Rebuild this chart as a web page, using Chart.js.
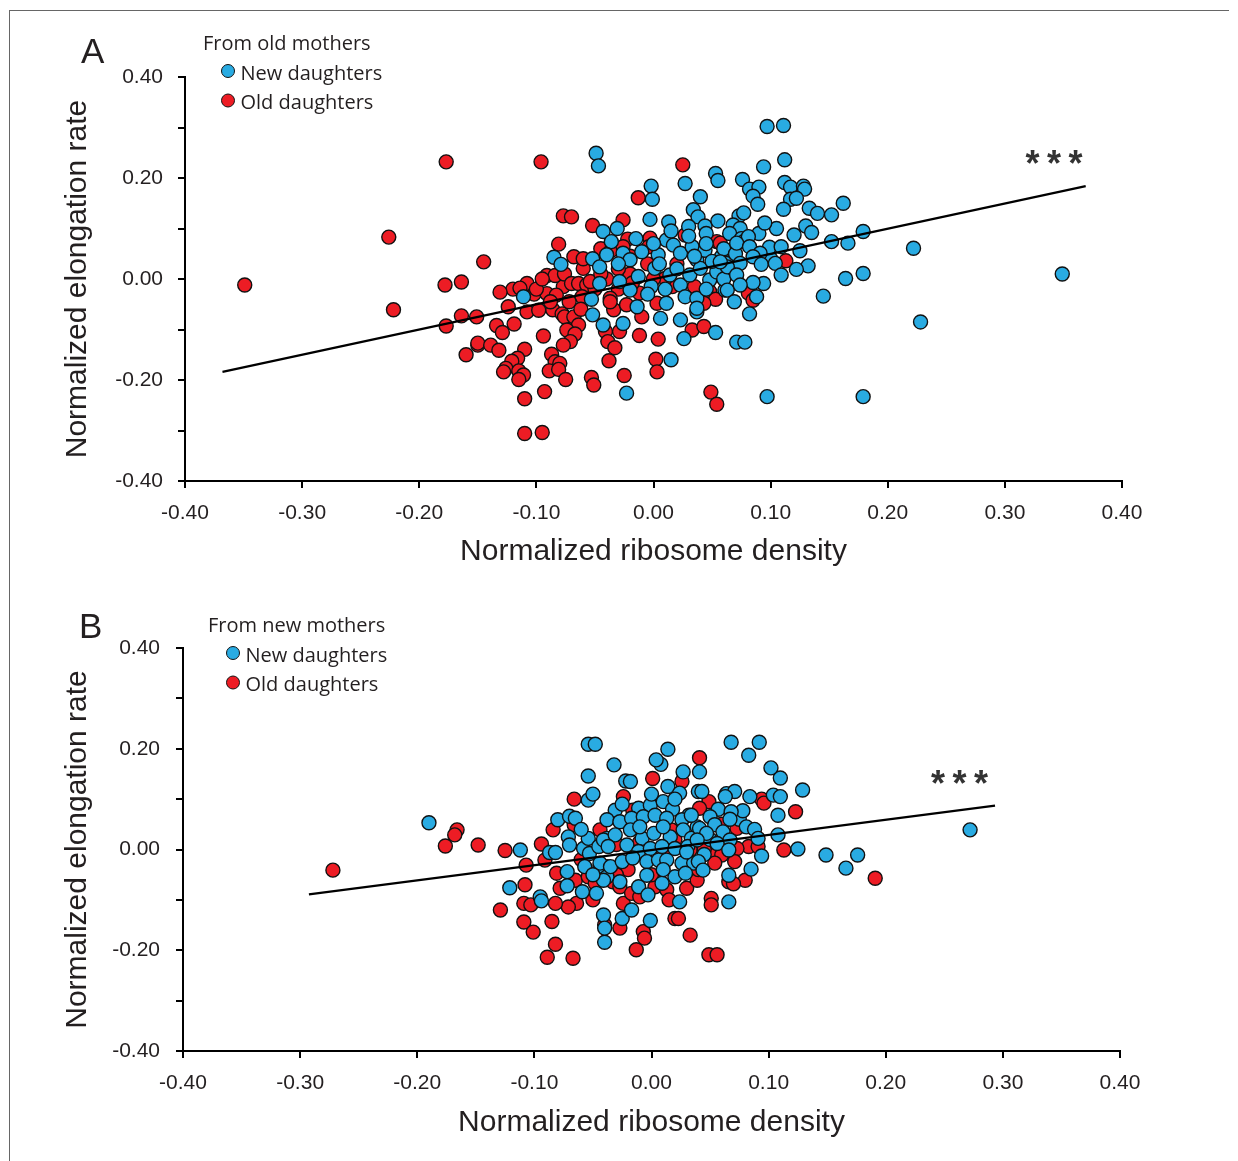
<!DOCTYPE html>
<html>
<head>
<meta charset="utf-8">
<script src="https://cdn.jsdelivr.net/npm/chart.js@4.4.1/dist/chart.umd.min.js"></script>
<style>
  body { margin: 0; background: #fff; }
  #wrap { position: relative; width: 1238px; height: 1161px; overflow: hidden; }
  #wrap canvas { position: absolute; left: 0; }
  #frame { position: absolute; left: 9px; top: 10px; width: 1219px; height: 1160px;
           border-top: 1px solid #666; border-left: 1px solid #666; }
</style>
</head>
<body>
<div id="wrap">
  <div id="frame"></div>
  <canvas id="chartA" width="1238" height="580" style="top:0"></canvas>
  <canvas id="chartB" width="1238" height="581" style="top:580px"></canvas>
</div>
<script>
// panel A: from old mothers
const oldMothersNewD = [
  [-0.085,0.043],[-0.079,0.029],[-0.111,-0.035],[-0.052,0.040],[-0.052,-0.071],[-0.053,-0.040],
  [-0.049,0.249],[-0.047,0.224],
  [-0.002,0.184],[-0.001,0.158],[0.027,0.189],[0.053,0.209],[0.055,0.195],[0.040,0.163],[0.034,0.137],
  [0.038,0.123],[0.044,0.105],[0.045,0.090],[-0.003,0.118],[0.013,0.113],[0.030,0.104],[-0.031,0.100],
  [-0.043,0.094],[-0.036,0.074],[-0.046,0.024],
  [-0.040,0.048],[-0.026,0.051],[-0.020,0.038],[-0.010,0.054],[0.004,0.048],[0.011,0.077],[0.017,0.067],
  [0.023,0.051],[0.033,0.064],[0.037,0.038],[0.044,0.057],[0.058,0.044],[0.062,0.031],
  [-0.046,-0.009],[-0.029,-0.005],[-0.013,0.005],[0.001,0.021],[0.014,0.008],[0.023,-0.012],[0.031,0.008],
  [0.040,0.021],[0.048,-0.002],[0.054,0.014],
  [-0.020,-0.022],[-0.002,-0.015],[0.011,-0.048],[0.027,-0.035],[0.037,-0.038],[0.037,-0.065],
  [-0.014,-0.055],[-0.026,-0.088],[-0.043,-0.091],[0.006,-0.078],[0.023,-0.081],[0.026,-0.118],[0.037,-0.058],
  [0.015,-0.160],[-0.023,-0.226],[0.053,-0.106],[0.061,-0.022],
  [0.005,0.030],[0.020,0.020],[0.035,0.045],[0.050,0.035],[0.060,0.060],[0.045,0.070],[0.030,0.085],
  [0.015,0.095],[0.000,0.070],[-0.015,0.080],[-0.030,0.030],[-0.005,-0.030],[0.010,-0.020],[0.045,-0.020],
  [0.060,0.000],[0.070,0.050],[0.090,0.090],[0.100,0.040],[0.105,0.100],[0.055,0.115],
  [0.097,0.302],[0.111,0.304],[0.112,0.236],[0.094,0.222],[0.076,0.197],
  [0.112,0.191],[0.117,0.182],[0.128,0.184],[0.129,0.178],[0.082,0.178],[0.090,0.182],[0.085,0.164],
  [0.089,0.148],[0.117,0.158],[0.122,0.160],[0.111,0.138],
  [0.133,0.140],[0.140,0.130],[0.152,0.127],[0.162,0.150],[0.095,0.111],[0.073,0.125],[0.077,0.131],
  [0.068,0.107],[0.074,0.100],[0.130,0.105],[0.135,0.092],[0.120,0.087],[0.179,0.094],[0.152,0.074],
  [0.166,0.071],[0.125,0.056],[0.099,0.063],[0.109,0.064],
  [0.065,0.090],[0.075,0.080],[0.077,0.074],[0.081,0.084],[0.071,0.071],[0.082,0.064],[0.091,0.051],
  [0.085,0.044],[0.074,0.031],[0.063,0.024],[0.057,0.034],
  [0.092,0.029],[0.104,0.031],[0.132,0.026],[0.122,0.019],[0.109,0.008],[0.094,-0.009],[0.085,-0.007],
  [0.071,0.008],[0.063,-0.022],[0.074,-0.012],[0.069,-0.045],[0.088,-0.035],[0.082,-0.069],
  [0.179,0.011],[0.164,0.001],[0.145,-0.034],[0.071,-0.125],[0.078,-0.125],[0.097,-0.233],[0.179,-0.233],
  [0.222,0.061],[0.228,-0.085],[0.349,0.010]
];
const oldMothersOldD = [
  [-0.349,-0.012],[-0.226,0.083],[-0.222,-0.061],[-0.177,0.232],[-0.178,-0.012],[-0.177,-0.093],
  [-0.164,-0.006],[-0.164,-0.073],[-0.160,-0.150],[-0.145,0.034],[-0.150,-0.131],[-0.096,0.232],
  [-0.077,0.125],[-0.070,0.123],[-0.052,0.106],[-0.081,0.069],[-0.068,0.044],[-0.060,0.021],[-0.108,-0.009],
  [-0.120,-0.020],[-0.114,-0.018],[-0.131,-0.026],[-0.102,-0.030],[-0.091,-0.029],[-0.077,-0.015],
  [-0.124,-0.055],[-0.108,-0.065],[-0.098,-0.062],[-0.151,-0.075],[-0.134,-0.092],[-0.129,-0.106],[-0.119,-0.089],
  [-0.086,-0.061],[-0.078,-0.069],[-0.076,-0.075],[-0.068,-0.075],[-0.064,-0.091],[-0.074,-0.101],
  [-0.067,-0.109],[-0.071,-0.124],[-0.077,-0.131],
  [-0.094,-0.113],[-0.150,-0.127],[-0.139,-0.131],[-0.132,-0.141],
  [-0.110,-0.139],[-0.116,-0.157],[-0.121,-0.163],[-0.126,-0.177],[-0.128,-0.184],[-0.115,-0.182],
  [-0.111,-0.190],[-0.115,-0.199],
  [-0.087,-0.149],[-0.084,-0.164],[-0.080,-0.167],[-0.089,-0.182],[-0.081,-0.179],[-0.075,-0.199],
  [-0.093,-0.223],[-0.110,-0.237],[-0.110,-0.306],[-0.095,-0.304],[-0.053,-0.195],[-0.051,-0.210],
  [-0.091,0.007],[-0.084,0.007],[-0.076,0.010],[-0.070,-0.009],[-0.064,-0.009],[-0.057,-0.012],
  [-0.061,-0.035],[-0.083,-0.032],
  [-0.100,-0.020],[-0.095,0.000],[-0.088,-0.045],[-0.072,-0.045],[-0.062,-0.060],[-0.050,-0.020],
  [-0.040,0.000],[-0.030,-0.020],[-0.020,0.010],[-0.060,0.040],[-0.045,0.060],[-0.020,0.045],
  [0.025,0.226],[-0.013,0.161],[-0.026,0.117],[-0.022,0.079],[-0.003,0.081],[0.027,0.087],[0.054,0.074],
  [-0.037,-0.038],[-0.034,-0.061],[-0.023,-0.051],[-0.010,-0.075],[-0.041,-0.104],[-0.029,-0.104],
  [-0.039,-0.124],[-0.033,-0.136],[-0.012,-0.112],[0.004,-0.119],[-0.038,-0.162],[0.002,-0.159],
  [0.003,-0.184],[-0.025,-0.191],
  [0.033,-0.101],[0.043,-0.094],[0.048,-0.025],[0.053,-0.040],[0.049,-0.224],[0.054,-0.248],
  [-0.054,-0.005],[-0.037,-0.045],[-0.012,-0.028],[0.003,-0.048],[0.016,-0.015],[0.043,-0.048],
  [-0.036,0.057],[-0.026,0.064],[-0.004,0.064],[0.010,0.001],
  [-0.045,0.010],[-0.030,0.020],[-0.018,-0.008],[0.000,0.000],[0.020,0.030],[0.035,-0.015],[-0.005,0.030],
  [0.113,0.036],[0.081,-0.028],[0.085,-0.042],[0.057,0.071]
];
const oldMothersFit = [[-0.368,-0.184],[0.369,0.184]];

// panel B: from new mothers
const newMothersNewD = [
  [-0.190,0.053],[-0.121,-0.076],[0.272,0.039],[0.149,-0.011],[0.166,-0.037],[0.176,-0.011],[0.125,0.001],
  [0.129,0.118],[0.110,0.142],[0.102,0.162],[0.092,0.213],[0.068,0.213],[0.014,0.199],[-0.054,0.209],
  [-0.048,0.209],[-0.032,0.168],[-0.041,-0.130],[-0.040,-0.184],[0.083,0.187],
  [-0.112,-0.001],[-0.054,0.146],[-0.054,0.098],[-0.050,0.110],[-0.080,0.059],[-0.070,0.066],[-0.065,0.062],
  [-0.087,-0.006],[-0.082,-0.006],
  [-0.071,0.025],[-0.070,0.009],[-0.058,0.002],[-0.054,0.022],[-0.053,-0.008],[-0.045,0.006],[-0.038,0.022],
  [-0.072,-0.044],[-0.057,-0.034],[-0.044,-0.033],[-0.038,-0.054],[-0.047,-0.087],[-0.059,-0.084],[-0.072,-0.072],
  [-0.095,-0.094],[-0.094,-0.102],[-0.040,-0.156],
  [0.008,0.169],[0.004,0.178],[-0.022,0.136],[-0.018,0.135],[0.027,0.154],[0.014,0.125],[0.024,0.112],[0.040,0.115],
  [-0.031,0.078],[-0.011,0.082],[-0.001,0.088],[0.010,0.095],[0.018,0.080],[0.032,0.068],
  [-0.038,0.059],[-0.027,0.055],[-0.017,0.062],[-0.007,0.065],[0.003,0.068],[0.013,0.062],[0.026,0.059],[0.039,0.045],
  [-0.041,0.019],[-0.031,0.029],[-0.018,0.039],[-0.008,0.022],[0.002,0.032],[0.016,0.025],[0.027,0.039],[0.034,0.022],
  [-0.037,0.006],[-0.021,0.009],[-0.011,-0.004],[-0.001,0.002],[0.009,0.006],[0.020,0.002],[0.031,0.006],
  [-0.044,-0.027],[-0.035,-0.034],[-0.025,-0.024],[-0.016,-0.017],[-0.004,-0.024],[0.006,-0.021],[0.013,-0.021],
  [0.026,-0.027],[0.036,-0.027],
  [-0.041,-0.061],[-0.027,-0.064],[-0.004,-0.051],[0.009,-0.067],[0.020,-0.054],[0.029,-0.047],
  [-0.011,-0.074],[-0.003,-0.090],[0.024,-0.104],[-0.025,-0.137],[-0.001,-0.141],[-0.017,-0.120],
  [-0.060,0.040],[-0.025,0.090],[0.000,0.110],[0.020,0.100],[0.050,0.020],[0.030,-0.005],[-0.010,0.045],
  [0.010,0.045],[-0.050,-0.050],[0.010,-0.040],[0.045,-0.010],[0.075,0.060],
  [0.041,0.154],[0.104,0.108],[0.110,0.105],[0.084,0.105],[0.108,0.068],[0.043,0.115],[0.064,0.111],
  [0.071,0.115],[0.063,0.105],
  [0.057,0.080],[0.078,0.077],[0.068,0.075],[0.067,0.060],[0.050,0.065],[0.034,0.068],[0.081,0.045],
  [0.088,0.040],[0.091,0.022],[0.108,0.029],
  [0.054,0.049],[0.041,0.042],[0.047,0.032],[0.061,0.035],[0.067,0.019],[0.039,0.019],[0.056,0.012],[0.066,-0.001],
  [0.094,-0.013],[0.040,-0.024],[0.044,-0.041],[0.066,-0.051],[0.085,-0.039],[0.066,-0.104]
];
const newMothersOldD = [
  [-0.272,-0.041],[-0.166,0.039],[-0.168,0.029],[-0.176,0.007],[-0.148,0.009],[-0.129,-0.120],[-0.125,-0.002],
  [-0.107,-0.031],[0.191,-0.057],[0.123,0.075],[-0.089,-0.214],[-0.067,-0.216],[-0.013,-0.199],[0.049,-0.209],
  [0.056,-0.209],[0.041,0.182],[-0.082,-0.188],
  [-0.094,0.011],[-0.084,0.039],[-0.066,0.100],[-0.066,0.049],[-0.091,-0.021],
  [-0.081,-0.047],[-0.078,-0.077],[-0.065,-0.061],[-0.054,-0.054],[-0.048,-0.067],[-0.064,-0.107],
  [-0.071,-0.114],[-0.082,-0.107],[-0.085,-0.143],
  [-0.108,-0.070],[-0.109,-0.107],[-0.103,-0.110],[-0.109,-0.144],[-0.101,-0.164],
  [0.001,0.141],[-0.024,0.105],[0.026,0.135],
  [-0.038,-0.034],[-0.033,-0.064],[-0.027,-0.074],[-0.024,-0.107],[-0.017,-0.087],[-0.010,-0.094],
  [0.003,-0.074],[0.013,-0.080],[0.030,-0.077],[-0.040,-0.150],
  [-0.027,-0.156],[-0.007,-0.163],[-0.006,-0.176],[0.020,-0.137],[0.023,-0.137],[0.033,-0.170],
  [-0.044,0.039],[-0.016,0.078],[0.017,0.039],[0.033,-0.001],
  [0.094,0.100],[0.096,0.092],[0.049,0.095],[0.041,0.082],
  [0.073,0.042],[0.083,0.006],[0.073,0.002],[0.091,0.006],[0.113,-0.001],[0.054,-0.011],[0.060,-0.011],[0.071,-0.024],
  [0.054,-0.027],[0.080,-0.061],[0.066,-0.064],[0.070,-0.068],[0.039,-0.061],[0.051,-0.097],[0.051,-0.110],
  [-0.030,0.010],[-0.010,0.015],[0.010,-0.005],[0.020,0.020],[-0.020,-0.040],[0.000,-0.050],[0.045,0.000],
  [-0.060,-0.020],[-0.030,-0.050],[0.040,-0.040],[0.015,-0.100],[-0.050,-0.100],[0.060,0.050]
];
const newMothersFit = [[-0.2925,-0.089],[0.2933,0.087]];

const seriesNames = ['New daughters', 'Old daughters'];
const blue = '#29abe2';
const red = '#ed1c24';
const ink = '#231f20';

const toXY = arr => arr.map(([x, y]) => ({x, y}));

// letter, legend block and significance stars
const overlay = {
  id: 'overlay',
  afterDraw(chart, args, o) {
    const ctx = chart.ctx;
    ctx.save();
    ctx.fillStyle = ink;
    ctx.textBaseline = 'alphabetic';
    ctx.textAlign = 'left';
    ctx.font = '35px "Liberation Sans", Arial, sans-serif';
    ctx.fillText(o.letter, o.letterX, o.letterY);

    ctx.font = '20px "Open Sans", sans-serif';
    ctx.fillText(o.title, o.legX, o.legY);
    [blue, red].forEach((c, i) => {
      const cy = o.legY + 21 + i * 29.5;
      ctx.beginPath();
      ctx.arc(o.legX + 25, cy, 6.5, 0, Math.PI * 2);
      ctx.fillStyle = c;
      ctx.fill();
      ctx.lineWidth = 1;
      ctx.strokeStyle = '#111';
      ctx.stroke();
      ctx.fillStyle = ink;
      ctx.fillText(seriesNames[i], o.legX + 37.5, cy + 8.5);
    });

    const sx = chart.scales.x.getPixelForValue(o.stars[0]);
    const sy = chart.scales.y.getPixelForValue(o.stars[1]);
    ctx.font = 'bold 36px "Liberation Sans", Arial, sans-serif';
    ctx.textAlign = 'center';
    ctx.fillStyle = '#333';
    for (let k = -1; k <= 1; k++) ctx.fillText('*', sx + k * 21.5, sy + 21);
    ctx.restore();
  }
};

function makePanel(id, p) {
  const axisFont = {family: '"Liberation Sans", Arial, sans-serif', size: 21};
  const titleFont = {family: '"Liberation Sans", Arial, sans-serif', size: 30};
  return new Chart(document.getElementById(id), {
    type: 'scatter',
    data: {
      datasets: [
        {
          type: 'line', data: toXY(p.fit), borderColor: '#000', borderWidth: 2.2,
          pointRadius: 0, fill: false, order: 0
        },
        {
          label: seriesNames[0], data: toXY(p.newD), backgroundColor: blue, borderColor: '#111',
          borderWidth: 1.4, pointRadius: 7, order: 1
        },
        {
          label: seriesNames[1], data: toXY(p.oldD), backgroundColor: red, borderColor: '#111',
          borderWidth: 1.4, pointRadius: 7, order: 2
        }
      ]
    },
    options: {
      responsive: false,
      animation: false,
      events: [],
      layout: { padding: { left: 0, top: p.top, right: 1238 - p.right, bottom: 0 } },
      plugins: {
        legend: { display: false },
        tooltip: { enabled: false },
        overlay: p.overlay
      },
      scales: {
        x: {
          type: 'linear', min: -0.4, max: 0.4,
          afterFit: s => { s.height = p.height - p.bottom; },
          ticks: {
            stepSize: 0.1, color: ink, font: axisFont, padding: 13, maxRotation: 0,
            callback: v => (Math.round(v * 10) / 10).toFixed(2)
          },
          grid: { drawOnChartArea: false, drawTicks: true, tickLength: 7, color: '#000', lineWidth: 2 },
          border: { display: true, color: '#000', width: 2 },
          title: { display: true, text: 'Normalized ribosome density', color: ink, font: titleFont,
                   padding: { top: 0, bottom: p.xTitlePad } }
        },
        y: {
          type: 'linear', min: -0.4, max: 0.4,
          afterFit: s => { s.width = p.left; },
          ticks: {
            stepSize: 0.1, color: ink, font: axisFont, padding: p.yTickPad,
            callback: v => {
              const t = Math.round(v * 10);
              return t % 2 === 0 ? (t / 10).toFixed(2) : '';
            }
          },
          grid: { drawOnChartArea: false, drawTicks: true, tickLength: 7, color: '#000', lineWidth: 2 },
          border: { display: true, color: '#000', width: 2 },
          title: { display: true, text: 'Normalized elongation rate', color: ink, font: titleFont,
                   padding: { top: 60, bottom: 0 } }
        }
      }
    },
    plugins: [overlay]
  });
}

makePanel('chartA', {
  newD: oldMothersNewD, oldD: oldMothersOldD, fit: oldMothersFit,
  top: 77, bottom: 481, left: 185, right: 1122, height: 580, xTitlePad: 10, yTickPad: 15,
  overlay: { letter: 'A', letterX: 81, letterY: 63, title: 'From old mothers', legX: 203, legY: 50,
             stars: [0.342, 0.246] }
});

makePanel('chartB', {
  newD: newMothersNewD, oldD: newMothersOldD, fit: newMothersFit,
  top: 68, bottom: 471, left: 183, right: 1120, height: 581, xTitlePad: 20, yTickPad: 16,
  overlay: { letter: 'B', letterX: 79, letterY: 58, title: 'From new mothers', legX: 208, legY: 52,
             stars: [0.263, 0.147] }
});
</script>
</body>
</html>
